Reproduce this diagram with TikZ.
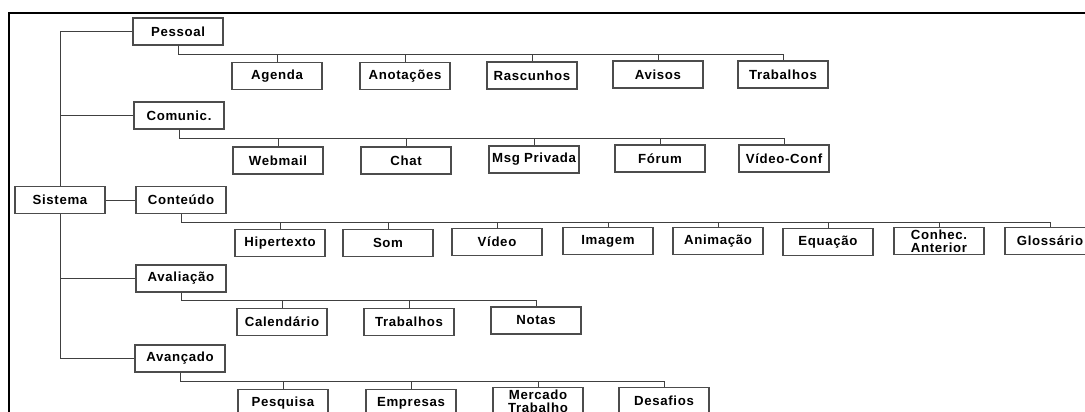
\documentclass[tikz,border=0pt]{standalone}
\usepackage{fontspec}
\newfontfamily\boxfont[LetterSpace=5.0]{Liberation Sans}
\usepackage{tikz}
\usetikzlibrary{positioning}

\begin{document}
\begin{tikzpicture}[x=0.025cm, y=-0.025cm,
    caixa/.style={draw=black!70, line width=0.9pt, fill=white, minimum width=2.25cm,
        minimum height=0.675cm, inner sep=0pt, align=center,
        font=\boxfont\bfseries\fontsize{9.4}{9.2}\selectfont},
    liga/.style={draw=black!75, line width=0.7pt}]
    \useasboundingbox (0,0) rectangle (1085,412);
    \clip (0,0) rectangle (1085,412);
    % moldura
    \draw[line width=1.4pt] (9,415) -- (9,13) -- (1086,13);

    % raiz e ramos
    \node[caixa] (sistema) at (60,200) {Sistema};
    \node[caixa] (pessoal) at (178,31.5) {Pessoal};
    \node[caixa] (comunic) at (179,115.5) {Comunic.};
    \node[caixa] (conteudo) at (181,200) {Conteúdo};
    \node[caixa] (avaliacao) at (181,278.5) {Avaliação};
    \node[caixa] (avancado) at (180,358.5) {Avançado};

    \draw[liga] (sistema.north) |- (pessoal.west);
    \draw[liga] (sistema.north) |- (comunic.west);
    \draw[liga] (sistema.east) -- (conteudo.west);
    \draw[liga] (sistema.south) |- (avaliacao.west);
    \draw[liga] (sistema.south) |- (avancado.west);

    % Pessoal
    \node[caixa] (agenda) at (277,76) {Agenda};
    \node[caixa] (anotacoes) at (405,76) {Anotações};
    \node[caixa] (rascunhos) at (532,75.5) {Rascunhos};
    \node[caixa] (avisos) at (658,74.5) {Avisos};
    \node[caixa] (trabalhosp) at (783,74.5) {Trabalhos};
    \foreach \filho in {agenda, anotacoes, rascunhos, avisos, trabalhosp}
        \draw[liga] (pessoal.south) -- ++(0,8.5) -| (\filho.north);

    % Comunic.
    \node[caixa] (webmail) at (278,160.5) {Webmail};
    \node[caixa] (chat) at (406,160.5) {Chat};
    \node[caixa] (msg) at (534,159.5) {Msg Privada};
    \node[caixa] (forum) at (660,158.5) {Fórum};
    \node[caixa] (videoconf) at (784,158.5) {Vídeo-Conf};
    \foreach \filho in {webmail, chat, msg, forum, videoconf}
        \draw[liga] (comunic.south) -- ++(0,9) -| (\filho.north);

    % Conteúdo
    \node[caixa] (hipertexto) at (280,243) {Hipertexto};
    \node[caixa] (som) at (388,243) {Som};
    \node[caixa] (video) at (497,242) {Vídeo};
    \node[caixa] (imagem) at (608,241) {Imagem};
    \node[caixa] (animacao) at (718,241) {Animação};
    \node[caixa] (equacao) at (828,242) {Equação};
    \node[caixa] (conhec) at (939,241) {Conhec.\\Anterior};
    \node[caixa] (glossario) at (1050,241) {Glossário};
    \foreach \filho in {hipertexto, som, video, imagem, animacao, equacao, conhec, glossario}
        \draw[liga] (conteudo.south) -- ++(0,8) -| (\filho.north);

    % Avaliação
    \node[caixa] (calendario) at (282,322) {Calendário};
    \node[caixa] (trabalhosa) at (409,322) {Trabalhos};
    \node[caixa] (notas) at (536,320.5) {Notas};
    \foreach \filho in {calendario, trabalhosa, notas}
        \draw[liga] (avaliacao.south) -- ++(0,8) -| (\filho.north);

    % Avançado
    \node[caixa] (pesquisa) at (283,403) {Pesquisa};
    \node[caixa] (empresas) at (411,403) {Empresas};
    \node[caixa] (mercado) at (538,401) {Mercado\\Trabalho};
    \node[caixa] (desafios) at (664,401) {Desafios};
    \foreach \filho in {pesquisa, empresas, mercado, desafios}
        \draw[liga] (avancado.south) -- ++(0,9) -| (\filho.north);
\end{tikzpicture}
\end{document}
